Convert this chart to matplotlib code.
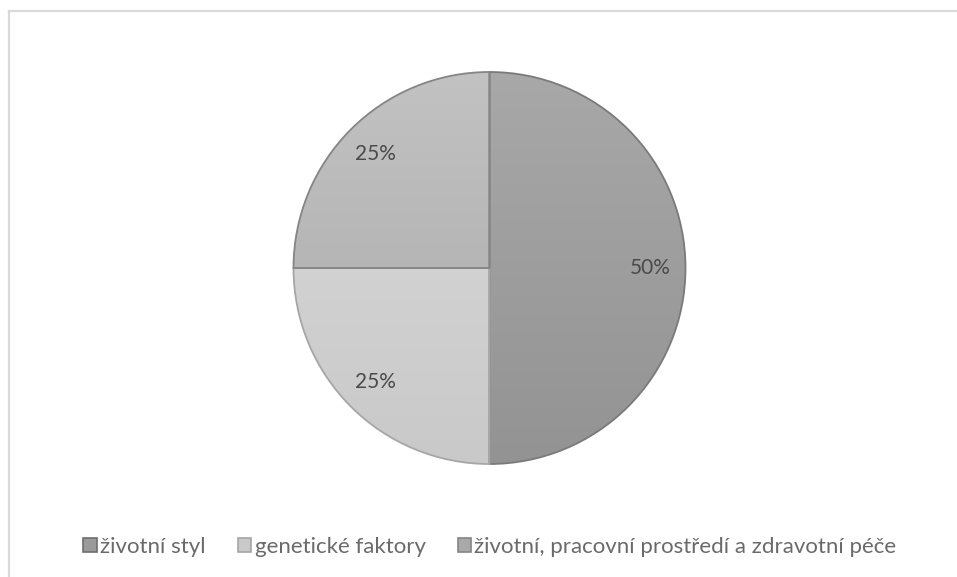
import matplotlib.pyplot as plt
import numpy as np
from matplotlib.lines import Line2D
from matplotlib.patches import Patch

plt.rcParams['font.family'] = ['Lato', 'DejaVu Sans']

labels = ['životní styl', 'genetické faktory', 'životní, pracovní prostředí a zdravotní péče']
shares = [50, 25, 25]

# top and bottom grey level of each slice's vertical gradient
grad_top = ['#a8a8a8', '#dadada', '#c2c2c2']
grad_bottom = ['#939393', '#c9c9c9', '#a9a9a9']
edge_colors = ['#7a7a7a', '#a6a6a6', '#858585']

W, H = 957, 577
fig = plt.figure(figsize=(W / 100, H / 100), dpi=100)

# pie centre and radius in pixels
cx, cy, r = 489.5, 268, 196
pad = 1.1
ax = fig.add_axes([(cx - pad * r) / W, (H - cy - pad * r) / H, 2 * pad * r / W, 2 * pad * r / H])

wedges, texts, autotexts = ax.pie(
    shares, startangle=90, counterclock=False, autopct='%1.0f%%', pctdistance=0.82,
    wedgeprops=dict(linewidth=1.3), textprops=dict(color='#4a4a4a', fontsize=15))
ax.set_xlim(-pad, pad)
ax.set_ylim(-pad, pad)

def hex_grey(c):
    return int(c[1:3], 16) / 255.0

for w, top, bot, ec in zip(wedges, grad_top, grad_bottom, edge_colors):
    w.set_facecolor('none')
    w.set_edgecolor(ec)
    w.set_zorder(3)
    t = np.linspace(0, 1, 256)[:, None]
    g = hex_grey(top) + (hex_grey(bot) - hex_grey(top)) * t
    img = np.dstack([g, g, g])
    im = ax.imshow(img, extent=(-1, 1, -1, 1), origin='upper', aspect='auto', zorder=2,
                   interpolation='bilinear')
    im.set_clip_path(w)

for t in autotexts:
    t.set_zorder(5)

# chart area outline (only top and left edges fall inside the image)
fig.add_artist(Line2D([8.5 / W, 1], [1 - 10.5 / H, 1 - 10.5 / H], color='#d9d9d9', linewidth=1.6))
fig.add_artist(Line2D([9 / W, 9 / W], [0, 1 - 10.5 / H], color='#d9d9d9', linewidth=1.6))

handles = [Patch(facecolor=c, edgecolor=e, linewidth=1.2) for c, e in zip(grad_bottom, edge_colors)]
handles[0] = Patch(facecolor='#9a9a9a', edgecolor='#6e6e6e', linewidth=1.2)
fig.legend(handles, labels, loc='center', bbox_to_anchor=(0.512, 1 - 547 / H), ncol=3,
           frameon=False, handlelength=0.6, handleheight=0.6, handletextpad=0.15,
           columnspacing=1.45, fontsize=16, labelcolor='#6a6a6a')

fig.savefig('out.png', dpi=100, facecolor='white')
